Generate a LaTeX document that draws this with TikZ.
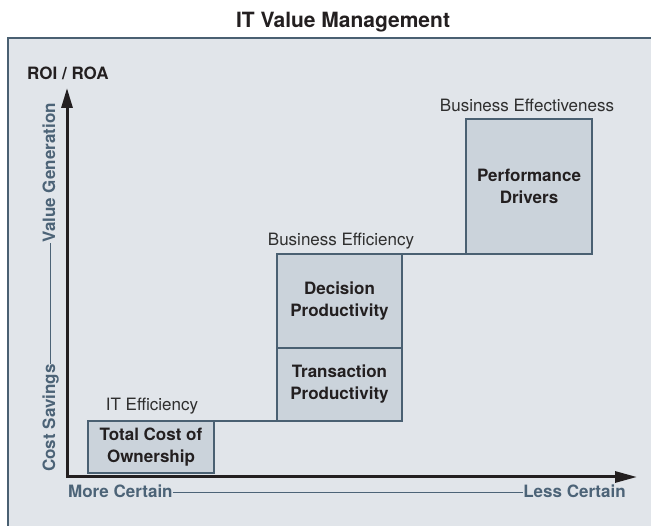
\documentclass[tikz,border=0pt]{standalone}
\usepackage{fontspec}
\setmainfont{TeX Gyre Heros}
\usetikzlibrary{arrows.meta}
\definecolor{panelfill}{HTML}{E1E5EA}
\definecolor{boxfill}{HTML}{CBD3DB}
\definecolor{slate}{HTML}{4A6072}
\definecolor{axistext}{HTML}{4C6377}
\definecolor{ink}{HTML}{231F20}
\definecolor{stagetext}{HTML}{2E2E2E}
\begin{document}
\begin{tikzpicture}[x=1pt,y=-1pt,
  stagebox/.style={draw=slate, line width=2pt, fill=boxfill, inner sep=0pt, outer sep=0pt, align=center,
    font=\fontsize{17}{22}\selectfont\bfseries, text=ink},
  stagelabel/.style={inner sep=0pt, font=\fontsize{17}{20}\selectfont, text=stagetext},
  titletext/.style={inner sep=0pt, font=\fontsize{21}{24}\selectfont\bfseries, text=ink},
  axislabel/.style={inner sep=0pt, font=\fontsize{17}{20}\selectfont\bfseries, text=axistext},
  conn/.style={draw=slate, line width=2pt},
  axisline/.style={draw=ink, line width=3pt,
    {Triangle[length=20pt,width=11pt]}-{Triangle[length=22pt,width=11pt]}},
  dashline/.style={draw=axistext, line width=1.1pt}
]
\useasboundingbox (0,0) rectangle (651,526);
% panel
\fill[panelfill] (8,38) rectangle (651,526);
\draw[slate, line width=2.5pt] (8,526) -- (8,38) -- (651,38);
% title
\node[titletext, anchor=base] (title) at (343,28) {IT Value Management};
% boxes
\node[stagebox, minimum width=126pt, minimum height=52pt, anchor=north west] (tco) at (88,421) {Total Cost of\\Ownership};
\node[stagebox, minimum width=125pt, minimum height=73pt, anchor=north west] (trans) at (277,348) {Transaction\\Productivity};
\node[stagebox, minimum width=125pt, minimum height=94pt, anchor=south west] (dec) at (277,348) {Decision\\Productivity};
\node[stagebox, minimum width=126pt, minimum height=135pt, anchor=north west] (perf) at (466,119) {Performance\\Drivers};
% connectors
\draw[conn] (tco.north east) -- (trans.south west);
\draw[conn] (dec.north east) -- (perf.south west);
% stage labels
\node[stagelabel, anchor=base] (itl) at (152,411) {IT Efficiency};
\node[stagelabel, anchor=base] (bel) at (341,246) {Business Efficiency};
\node[stagelabel, anchor=base] (bfl) at (527,112) {Business Effectiveness};
% axes
\coordinate (ytip) at (67,88);
\coordinate (origin) at (67,477);
\coordinate (xtip) at (637,477);
\draw[axisline] (ytip) -- (origin) -- (xtip);
\node[axislabel, text=ink, anchor=base west] (roi) at (27,80) {ROI / ROA};
% x-axis labels
\node[axislabel, anchor=base west] (more) at (68,497) {More Certain};
\node[axislabel, anchor=base east] (less) at (626,497) {Less Certain};
\draw[dashline] ([yshift=4.5pt]more.base east) -- ([yshift=4.5pt]less.base west);
% y-axis labels
\node[axislabel, rotate=90, anchor=base west] (cost) at (55,472) {Cost Savings};
\node[axislabel, rotate=90, anchor=base east] (value) at (55,103) {Value Generation};
\draw[dashline] ([xshift=-4.5pt]cost.base east) -- ([xshift=-4.5pt]value.base west);
\end{tikzpicture}
\end{document}
